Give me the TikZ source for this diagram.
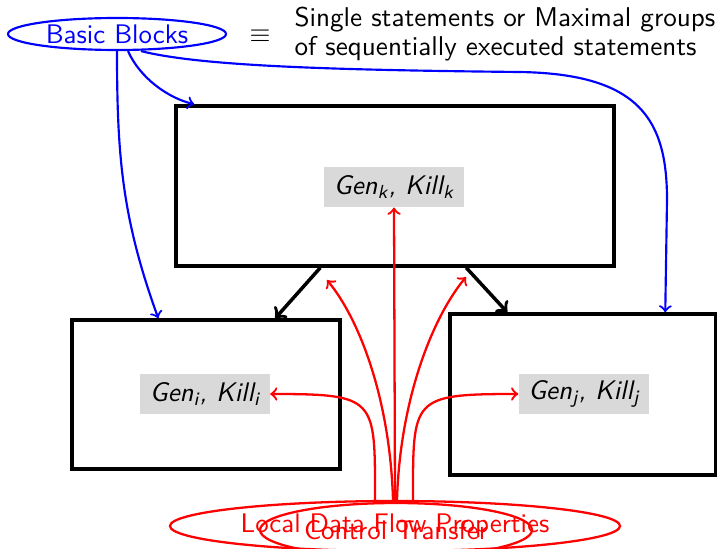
\documentclass[tikz,border=0pt]{standalone}
\usetikzlibrary{shapes.geometric}
\def\pxu{0.372pt}
\tikzset{
  blockbox/.style={draw=black,line width=1.3pt,rectangle,inner sep=0pt},
  facts/.style={fill=black!15,font=\sffamily\itshape,inner xsep=3.5pt,inner ysep=0pt,minimum height=40*\pxu},
  bluearrow/.style={draw=blue,line width=0.8pt,->},
  redarrow/.style={draw=red,line width=0.85pt,->},
  flowarrow/.style={draw=black,line width=1.3pt,->},
  blueell/.style={ellipse,draw=blue,line width=0.8pt,text=blue,inner sep=0pt},
  redell/.style={ellipse,draw=red,line width=0.85pt,text=red,inner sep=0pt},
}
\begin{document}
\begin{tikzpicture}[x=0.372pt,y=-0.372pt,font=\sffamily]
\clip (0,0) rectangle (717,548);
% header
\node[blueell,minimum width=218*\pxu,minimum height=32*\pxu] (bb) at (117,34) {Basic Blocks};
\node (eq) at (260,36) {$\equiv$};
\node[anchor=west,align=left,inner sep=0pt,font=\sffamily\fontsize{10.1}{10.8}\selectfont] (desc) at (294,34.5)
  {Single statements or Maximal groups\\of sequentially executed statements};
% blocks
\node[blockbox,minimum width=438*\pxu,minimum height=160*\pxu] (boxk) at (395,186) {};
\node[blockbox,minimum width=268*\pxu,minimum height=149*\pxu] (boxi) at (206,394.5) {};
\node[blockbox,minimum width=266*\pxu,minimum height=161*\pxu] (boxj) at (583,394.5) {};
% facts
\node[facts] (lk) at (394,187) {Gen\textsubscript{k}, Kill\textsubscript{k}};
\node[facts] (li) at (205,394) {Gen\textsubscript{i}, Kill\textsubscript{i}};
\node[facts] (lj) at (584,394) {Gen\textsubscript{j}, Kill\textsubscript{j}};
% bottom ellipses
\node[redell,minimum width=450*\pxu,minimum height=50*\pxu] (ldf) at (395,526) {Local Data Flow Properties};
\node[redell,minimum width=272*\pxu,minimum height=54*\pxu] (ct) at (396,530) {Control Transfer};
% free ends
\coordinate (kL) at (327,280);
\coordinate (kR) at (466,277);
% control flow
\draw[flowarrow] ([xshift=146*\pxu]boxk.south west) -- ([xshift=205*\pxu]boxi.north west);
\draw[flowarrow] ([xshift=292*\pxu]boxk.south west) -- ([xshift=59*\pxu]boxj.north west);
% blue arrows
\draw[bluearrow] (bb.south) .. controls (117,156) and (122,218) .. ([xshift=88*\pxu]boxi.north west);
\draw[bluearrow] ([xshift=11*\pxu]bb.south) .. controls (140,78) and (168,98) .. ([xshift=20*\pxu]boxk.north west);
\draw[bluearrow] ([xshift=24*\pxu]bb.south) .. controls (200,66) and (330,70) .. (520,72)
  .. controls (640,74) and (667,120) .. (667,200) -- ([xshift=217*\pxu]boxj.north west);
% red arrows
\draw[redarrow] (ldf.north) -- (lk.south);
\draw[redarrow] ([xshift=-2*\pxu]ldf.north) .. controls (390,400) and (360,320) .. (kL);
\draw[redarrow] ([xshift=2*\pxu]ldf.north) .. controls (400,400) and (432,318) .. (kR);
\draw[redarrow] ([xshift=-20*\pxu]ldf.north) .. controls (375,398) and (377,394) .. (li.east);
\draw[redarrow] ([xshift=18*\pxu]ldf.north) .. controls (413,398) and (411,394) .. (lj.west);
\end{tikzpicture}
\end{document}
